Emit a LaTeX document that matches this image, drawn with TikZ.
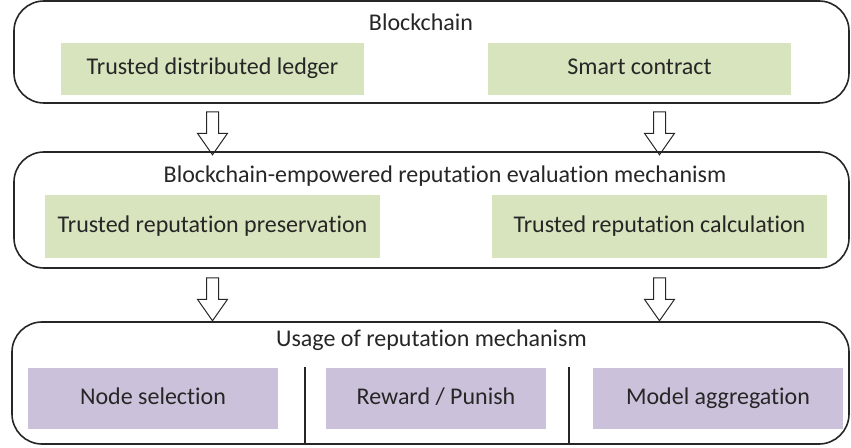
\documentclass[tikz,border=0pt]{standalone}
\usepackage{xcolor}
\usepackage{tikz}
\usepackage{fontspec}
\setmainfont{Carlito}[Ligatures=NoCommon]
\usetikzlibrary{shapes.arrows}
\definecolor{lightgreen}{HTML}{D7E4BD}
\definecolor{lightpurple}{HTML}{CCC1DA}
\definecolor{textgray}{HTML}{262626}

\begin{document}
\begin{tikzpicture}[
  x=0.5pt, y=-0.5pt,
  every node/.style={text=textgray, font=\fontsize{12}{14}\selectfont},
  layer/.style={draw=black!85, line width=0.8pt, rounded corners=15pt},
  green/.style={fill=lightgreen, text height=8.5pt, text depth=2.5pt},
  purple/.style={fill=lightpurple, minimum height=30.5pt, text height=8.5pt, text depth=2.5pt},
  down/.style={single arrow, draw=black!85, line width=0.5pt, shape border rotate=270,
    minimum height=21.5pt, inner sep=2.75pt, single arrow head extend=4.5pt,
    single arrow tip angle=70}
]
\useasboundingbox (0,0) rectangle (851,448);

% three layers
\node[layer, minimum width=417.5pt, minimum height=51pt] (chain) at (431.5,52) {};
\node[layer, minimum width=417.5pt, minimum height=58pt] (rep) at (431.5,210) {};
\node[layer, minimum width=418.5pt, minimum height=61pt] (use) at (430.5,383) {};

% titles
\node[anchor=base] (chaintitle) at (421,31) {Blockchain};
\node[anchor=base] (reptitle) at (445,183) {Blockchain-empowered reputation evaluation mechanism};
\node[anchor=base] (usetitle) at (431.5,347) {Usage of reputation mechanism};

% blockchain
\node[green, minimum width=151.5pt, minimum height=26pt] (ledger) at (212.5,69) {Trusted distributed ledger};
\node[green, minimum width=151.5pt, minimum height=26pt] (contract) at (639.5,69) {Smart contract};

% reputation
\node[green, minimum width=167.5pt, minimum height=31.5pt] (keep) at (212.5,226.5) {Trusted reputation preservation};
\node[green, minimum width=167.5pt, minimum height=31.5pt] (calc) at (659.5,226.5) {Trusted reputation calculation};

% usage
\node[purple, minimum width=125pt] (select) at (153,398.5) {Node selection};
\node[purple, minimum width=110pt] (reward) at (436,398.5) {Reward / Punish};
\node[purple, minimum width=125pt] (aggr) at (718,398.5) {Model aggregation};

\coordinate (d1) at (305,367);
\coordinate (d2) at (569,367);
\draw[black!85, line width=0.7pt] (d1) -- (d1 |- use.south);
\draw[black!85, line width=0.7pt] (d2) -- (d2 |- use.south);

% arrows
\node[down] (a1) at (212.5,129) {};
\node[down] (a2) at (659.5,129) {};
\node[down] (a3) at (212.5,295) {};
\node[down] (a4) at (659.5,295) {};
\end{tikzpicture}
\end{document}
